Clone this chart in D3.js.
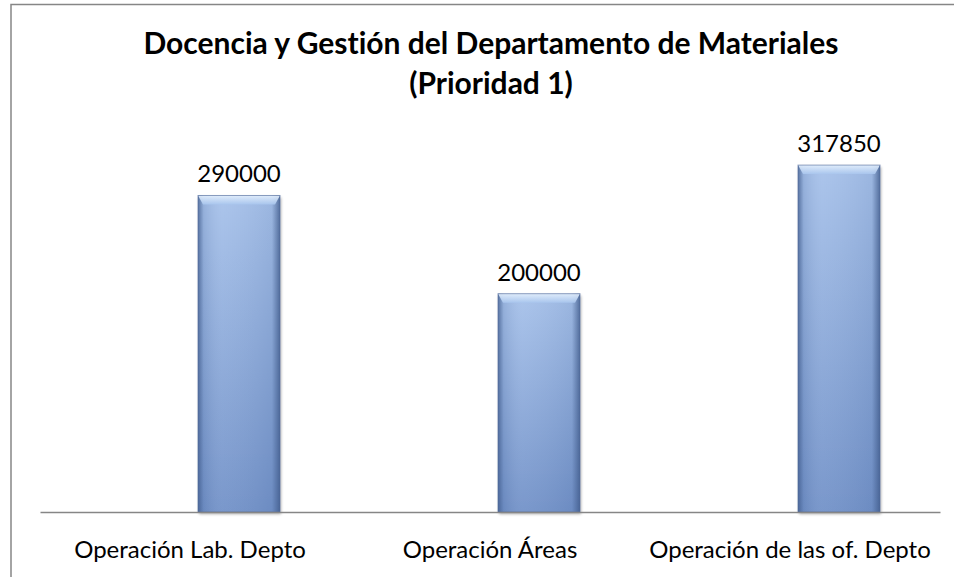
<!DOCTYPE html>
<html>
<head>
<meta charset="utf-8">
<script src="https://cdn.jsdelivr.net/npm/d3@7"></script>
<style>
  body { margin: 0; background: #fff; }
  svg text { font-family: Lato, "Open Sans", sans-serif; fill: #000; font-variant-ligatures: none; }
</style>
</head>
<body>
<svg id="chart"></svg>
<script>
const categories = ["Operación Lab. Depto", "Operación Áreas", "Operación de las of. Depto"];
const seriesNames = ["", "Prioridad 1"];
const serieVacia = [null, null, null];
const prioridad1 = [290000, 200000, 317850];
const titleLines = ["Docencia y Gestión del Departamento de Materiales", "(Prioridad 1)"];

const size = { w: 954, h: 577 };
const plot = { l: 40, r: 940, t: 130, b: 512 };

const svg = d3.select("svg#chart").attr("width", size.w).attr("height", size.h);

// gradients for the bevelled bars
const defs = svg.append("defs");
const body = defs.append("linearGradient").attr("id", "barBody")
	.attr("x1", 0).attr("y1", 0).attr("x2", 0).attr("y2", 1);
body.append("stop").attr("offset", "0%").attr("stop-color", "#a6c1ea");
body.append("stop").attr("offset", "100%").attr("stop-color", "#7191c8");

const sides = defs.append("linearGradient").attr("id", "barSides")
	.attr("x1", 0).attr("y1", 0).attr("x2", 1).attr("y2", 0);
sides.append("stop").attr("offset", "0%").attr("stop-color", "#3f5a8a").attr("stop-opacity", 0.75);
sides.append("stop").attr("offset", "7%").attr("stop-color", "#3f5a8a").attr("stop-opacity", 0.15);
sides.append("stop").attr("offset", "30%").attr("stop-color", "#ffffff").attr("stop-opacity", 0.06);
sides.append("stop").attr("offset", "90%").attr("stop-color", "#3f5a8a").attr("stop-opacity", 0.1);
sides.append("stop").attr("offset", "100%").attr("stop-color", "#3f5a8a").attr("stop-opacity", 0.8);

const bevel = defs.append("linearGradient").attr("id", "barBevel")
	.attr("x1", 0).attr("y1", 0).attr("x2", 0).attr("y2", 1);
bevel.append("stop").attr("offset", "0%").attr("stop-color", "#e6f1fd");
bevel.append("stop").attr("offset", "100%").attr("stop-color", "#a9c6ee");

const shadow = defs.append("filter").attr("id", "shadow")
	.attr("x", "-20%").attr("y", "-10%").attr("width", "140%").attr("height", "120%");
shadow.append("feGaussianBlur").attr("in", "SourceAlpha").attr("stdDeviation", 1.5);
shadow.append("feOffset").attr("dx", 1).attr("dy", 1.5).attr("result", "b");
shadow.append("feComponentTransfer").append("feFuncA").attr("type", "linear").attr("slope", 0.35);
const merge = shadow.append("feMerge");
merge.append("feMergeNode");
merge.append("feMergeNode").attr("in", "SourceGraphic");

// chart frame (continues past the right and bottom edges)
svg.append("path")
	.attr("d", `M11,${size.h + 5} L11,4.5 L${size.w + 5},4.5`)
	.attr("fill", "none")
	.attr("stroke", "#868686")
	.attr("stroke-width", 1.5);

// title
svg.append("g").selectAll("text")
	.data(titleLines)
	.join("text")
	.attr("x", 491)
	.attr("y", (d, i) => 54 + i * 40)
	.attr("text-anchor", "middle")
	.style("font-weight", "bold")
	.style("font-size", "30px")
	.text((d) => d);

const x = d3.scaleBand().domain(categories).range([plot.l, plot.r]);
const xSeries = d3.scaleBand().domain(seriesNames).range([0, x.bandwidth()])
	.paddingInner(0.163).paddingOuter(0.612);
const y = d3.scaleLinear().domain([0, 350000]).range([plot.b, plot.t]);

const data = categories.map((c, i) => ({ cat: c, vacia: serieVacia[i], value: prioridad1[i] }));

// bars
const bars = svg.append("g").selectAll("g")
	.data(data.filter((d) => d.value != null))
	.join("g")
	.attr("transform", (d) => `translate(${x(d.cat) + xSeries("Prioridad 1")}, 0)`);

const bw = xSeries.bandwidth();
bars.append("rect")
	.attr("x", 0)
	.attr("y", (d) => y(d.value))
	.attr("width", bw)
	.attr("height", (d) => y(0) - y(d.value))
	.attr("fill", "url(#barBody)")
	.attr("filter", "url(#shadow)");
bars.append("rect")
	.attr("x", 0)
	.attr("y", (d) => y(d.value))
	.attr("width", bw)
	.attr("height", (d) => y(0) - y(d.value))
	.attr("fill", "url(#barSides)");
bars.append("path")
	.attr("d", (d) => {
		const t = y(d.value);
		return `M0,${t} L${bw},${t} L${bw - 5},${t + 9} L5,${t + 9} Z`;
	})
	.attr("fill", "url(#barBevel)")
	.attr("opacity", 0.9);
bars.append("rect")
	.attr("x", 0)
	.attr("y", (d) => y(d.value))
	.attr("width", bw)
	.attr("height", (d) => y(0) - y(d.value))
	.attr("fill", "none")
	.attr("stroke", "#52699a")
	.attr("stroke-opacity", 0.6)
	.attr("stroke-width", 1);

// value labels
svg.append("g").selectAll("text")
	.data(data)
	.join("text")
	.attr("x", (d) => x(d.cat) + xSeries("Prioridad 1") + bw / 2)
	.attr("y", (d) => y(d.value) - 13)
	.attr("text-anchor", "middle")
	.style("font-size", "24px")
	.text((d) => d.value);

// category axis
const axis = svg.append("g")
	.attr("transform", `translate(0, ${plot.b})`)
	.call(d3.axisBottom(x).tickSize(0).tickPadding(29));
axis.select(".domain").attr("stroke", "#868686").attr("stroke-width", 1.5);
axis.selectAll(".tick text")
	.style("font-family", "Lato, 'Open Sans', sans-serif")
	.style("font-size", "24px")
	.attr("fill", "#000");
</script>
</body>
</html>
